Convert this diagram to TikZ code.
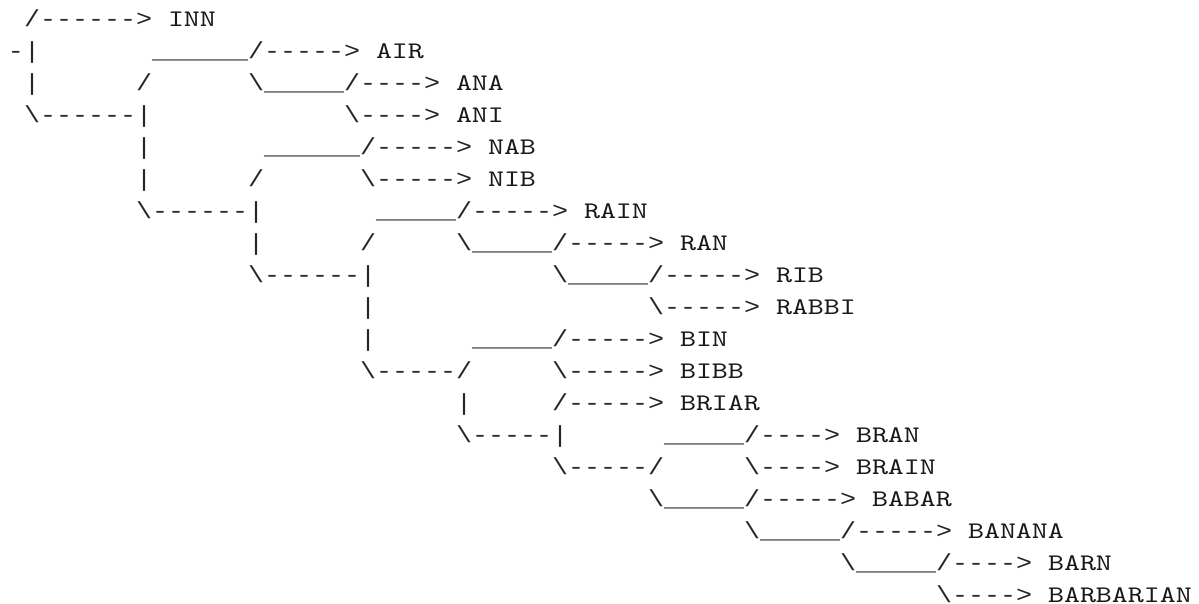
\documentclass[tikz,border=0pt]{standalone}
\usepackage{fontspec}
\setmonofont{Liberation Mono}[FakeStretch=1.15]
\newfontfamily\wordfont{lmmono10-regular.otf}[FakeStretch=1.28]
\newcommand\BKS{\textbackslash}
\newcommand\UND{\_}
\newcommand\asciiseg[4]{\node[txt] (#1) at ({8+16*#3},{-26.1-32*#2}) {#4};}
\newcommand\asciiword[4]{\node[wrd] (#1) at ({8+16*#3},{-26.1-32*#2}) {#4};}
\begin{document}
\begin{tikzpicture}[x=1pt,y=1pt,
  txt/.style={anchor=base west, inner sep=0pt, outer sep=0pt, text depth=0pt,
    font=\ttfamily\fontsize{23.2}{28}\selectfont, text=black!85},
  wrd/.style={anchor=base west, inner sep=0pt, outer sep=0pt, text depth=0pt,
    font=\wordfont\fontsize{23.8}{28}\selectfont, text=black!90}]
\useasboundingbox[fill=white] (0,0) rectangle (1199,-604);
% line 0
\asciiseg{l0a}{0}{1}{/------>}
\asciiword{l0b}{0}{10}{INN}
% line 1
\asciiseg{l1a}{1}{0}{-|}
\asciiseg{l1b}{1}{9}{\UND\UND\UND\UND\UND\UND/----->}
\asciiword{l1c}{1}{23}{AIR}
% line 2
\asciiseg{l2a}{2}{1}{|}
\asciiseg{l2b}{2}{8}{/}
\asciiseg{l2c}{2}{15}{\BKS\UND\UND\UND\UND\UND/---->}
\asciiword{l2d}{2}{28}{ANA}
% line 3
\asciiseg{l3a}{3}{1}{\BKS------|}
\asciiseg{l3b}{3}{21}{\BKS---->}
\asciiword{l3c}{3}{28}{ANI}
% line 4
\asciiseg{l4a}{4}{8}{|}
\asciiseg{l4b}{4}{16}{\UND\UND\UND\UND\UND\UND/----->}
\asciiword{l4c}{4}{30}{NAB}
% line 5
\asciiseg{l5a}{5}{8}{|}
\asciiseg{l5b}{5}{15}{/}
\asciiseg{l5c}{5}{22}{\BKS----->}
\asciiword{l5d}{5}{30}{NIB}
% line 6
\asciiseg{l6a}{6}{8}{\BKS------|}
\asciiseg{l6b}{6}{23}{\UND\UND\UND\UND\UND/----->}
\asciiword{l6c}{6}{36}{RAIN}
% line 7
\asciiseg{l7a}{7}{15}{|}
\asciiseg{l7b}{7}{22}{/}
\asciiseg{l7c}{7}{28}{\BKS\UND\UND\UND\UND\UND/----->}
\asciiword{l7d}{7}{42}{RAN}
% line 8
\asciiseg{l8a}{8}{15}{\BKS------|}
\asciiseg{l8b}{8}{34}{\BKS\UND\UND\UND\UND\UND/----->}
\asciiword{l8c}{8}{48}{RIB}
% line 9
\asciiseg{l9a}{9}{22}{|}
\asciiseg{l9b}{9}{40}{\BKS----->}
\asciiword{l9c}{9}{48}{RABBI}
% line 10
\asciiseg{l10a}{10}{22}{|}
\asciiseg{l10b}{10}{29}{\UND\UND\UND\UND\UND/----->}
\asciiword{l10c}{10}{42}{BIN}
% line 11
\asciiseg{l11a}{11}{22}{\BKS-----/}
\asciiseg{l11b}{11}{34}{\BKS----->}
\asciiword{l11c}{11}{42}{BIBB}
% line 12
\asciiseg{l12a}{12}{28}{|}
\asciiseg{l12b}{12}{34}{/----->}
\asciiword{l12c}{12}{42}{BRIAR}
% line 13
\asciiseg{l13a}{13}{28}{\BKS-----|}
\asciiseg{l13b}{13}{41}{\UND\UND\UND\UND\UND/---->}
\asciiword{l13c}{13}{53}{BRAN}
% line 14
\asciiseg{l14a}{14}{34}{\BKS-----/}
\asciiseg{l14b}{14}{46}{\BKS---->}
\asciiword{l14c}{14}{53}{BRAIN}
% line 15
\asciiseg{l15a}{15}{40}{\BKS\UND\UND\UND\UND\UND/----->}
\asciiword{l15b}{15}{54}{BABAR}
% line 16
\asciiseg{l16a}{16}{46}{\BKS\UND\UND\UND\UND\UND/----->}
\asciiword{l16b}{16}{60}{BANANA}
% line 17
\asciiseg{l17a}{17}{52}{\BKS\UND\UND\UND\UND\UND/---->}
\asciiword{l17b}{17}{65}{BARN}
% line 18
\asciiseg{l18a}{18}{58}{\BKS---->}
\asciiword{l18b}{18}{65}{BARBARIAN}
\end{tikzpicture}
\end{document}
